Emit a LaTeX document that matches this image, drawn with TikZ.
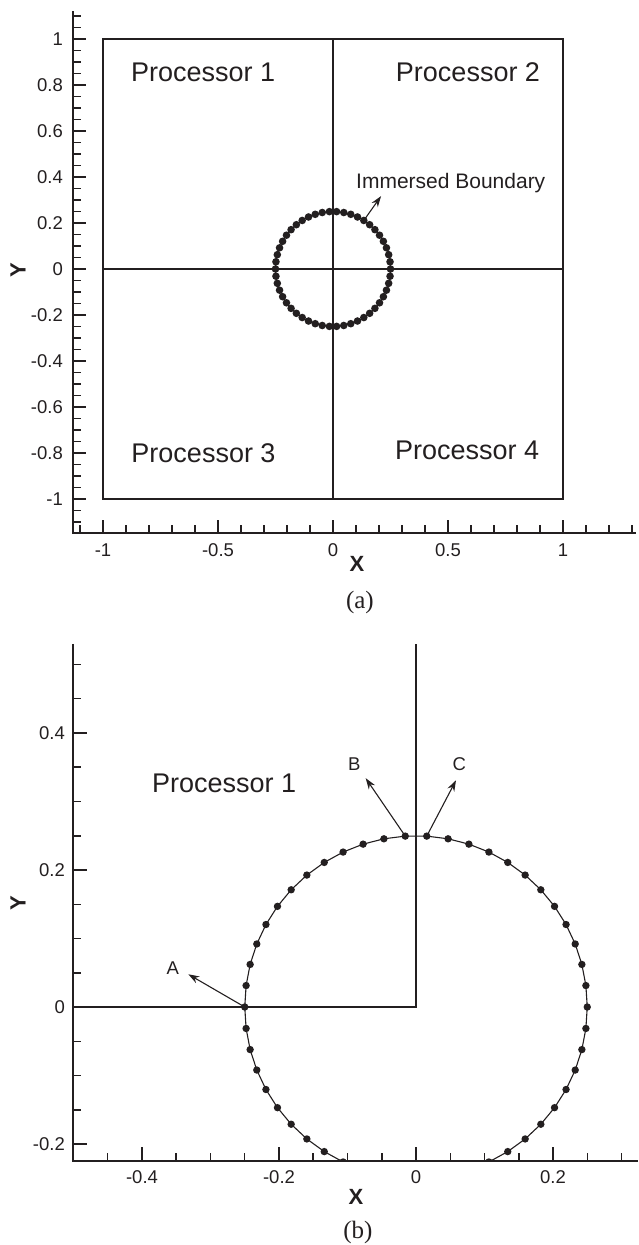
\documentclass[tikz,border=0pt]{standalone}
\usepackage{fontspec}
\setmainfont{Liberation Sans}
\newfontfamily\capfont{Liberation Serif}
\usetikzlibrary{arrows.meta}
\definecolor{ink}{HTML}{231F20}
\begin{document}
\begin{tikzpicture}[x=1pt,y=1pt, color=ink,
  proc/.style={font=\fontsize{27}{30}\selectfont, inner sep=0pt},
  ticklab/.style={font=\fontsize{18.5}{20}\selectfont, inner sep=0pt},
  axlab/.style={font=\bfseries\fontsize{22}{24}\selectfont, inner sep=0pt},
  captxt/.style={font=\capfont\fontsize{25}{28}\selectfont, inner sep=0pt},
  iblabel/.style={font=\fontsize{21}{24}\selectfont, inner sep=0pt},
  ptlab/.style={font=\fontsize{18.5}{20}\selectfont, inner sep=0pt},
  thickline/.style={line width=2.8pt},
  axisline/.style={line width=2.8pt},
  majtick/.style={line width=2.4pt},
  mintick/.style={line width=1.5pt},
  ptr/.style={line width=1.1pt, -{Stealth[length=11pt,width=7.5pt]}},
  curve/.style={line width=1.1pt},
]
\useasboundingbox (0,0) rectangle (638,-1245);

% ---------------- Panel (a) ----------------
\begin{scope}[shift={(333pt,-269pt)}, x=230pt, y=230pt]
  \draw[axisline] (-1.1304,1.1217) -- (-1.1304,-1.148) -- (1.317,-1.148);
  \foreach \i in {-22,...,22} \draw[mintick] (-1.1304,\i*0.05) -- ++(8pt,0);
  \foreach \i in {-5,...,5} \draw[majtick] (-1.1304,\i*0.2) -- ++(13pt,0);
  \foreach \i in {-11,...,13} \draw[mintick] (\i*0.1,-1.148) -- ++(0,8pt);
  \foreach \i in {-2,...,2} \draw[majtick] (\i*0.5,-1.148) -- ++(0,13pt);
  \foreach \v/\t [count=\n] in {1/1,0.8/0.8,0.6/0.6,0.4/0.4,0.2/0.2,0/0,-0.2/-0.2,-0.4/-0.4,-0.6/-0.6,-0.8/-0.8,-1/-1}
    \node[ticklab, anchor=east] (ya\n) at ([xshift=-10pt]-1.1304,\v) {\t};
  \foreach \v/\t [count=\n] in {-1/-1,-0.5/-0.5,0/0,0.5/0.5,1/1}
    \node[ticklab] (xa\n) at ([yshift=-17pt]\v,-1.148) {\t};

  \draw[thickline] (-1,-1) rectangle (1,1);
  \draw[thickline] (0,-1) -- (0,1);
  \draw[thickline] (-1,0) -- (1,0);

  \draw[curve] (0,0) circle[radius=0.25];
  \foreach \k in {0,...,49} \fill (\k*7.2:0.25) circle[radius=3.8pt];

  \coordinate (ibdot) at (57.6:0.25);
  \coordinate (ibtip) at (0.209,0.317);
  \draw[ptr] (ibdot) -- (ibtip);
  \node[iblabel, anchor=west] (iblab) at (0.1,0.374) {Immersed Boundary};

  \node[proc] (p1a) at (-0.565,0.857) {Processor 1};
  \node[proc] (p2a) at (0.587,0.857) {Processor 2};
  \node[proc] (p3a) at (-0.563,-0.8) {Processor 3};
  \node[proc] (p4a) at (0.583,-0.787) {Processor 4};

  \node[axlab] (xlaba) at (0.104,-1.283) {X};
  \node[axlab, rotate=90] (ylaba) at (-1.3696,-0.004) {Y};
  \node[captxt] (capa) at (0.117,-1.448) {(a)};
\end{scope}

% ---------------- Panel (b) ----------------
\begin{scope}[shift={(416pt,-1007pt)}, x=685pt, y=685pt]
  \draw[axisline] (-0.5007,0.53) -- (-0.5007,-0.2248) -- (0.3241,-0.2248);
  \foreach \i in {-4,...,10} \draw[mintick] (-0.5007,\i*0.05) -- ++(8pt,0);
  \foreach \i in {-1,...,2} \draw[majtick] (-0.5007,\i*0.2) -- ++(14pt,0);
  \foreach \i in {-9,...,6} \draw[mintick] (\i*0.05,-0.2248) -- ++(0,8pt);
  \foreach \i in {-2,...,1} \draw[majtick] (\i*0.2,-0.2248) -- ++(0,14pt);
  \foreach \v/\t [count=\n] in {0.4/0.4,0.2/0.2,0/0,-0.2/-0.2}
    \node[ticklab, anchor=east] (yb\n) at ([xshift=-8pt]-0.5007,\v) {\t};
  \foreach \v/\t [count=\n] in {-0.4/-0.4,-0.2/-0.2,0/0,0.2/0.2}
    \node[ticklab] (xb\n) at ([yshift=-16pt]\v,-0.2248) {\t};

  \draw[thickline] (-0.5007,0) -- (0,0) -- (0,0.53);

  \begin{scope}
    \clip (-0.5007,-0.2248) rectangle (0.3241,0.53);
    \draw[curve] (0:0.25) \foreach \k in {1,...,50} { -- (\k*7.2:0.25)};
    \foreach \k in {0,...,49} \fill (\k*7.2:0.25) circle[radius=3.7pt];
  \end{scope}

  \coordinate (dA) at (180:0.25);
  \coordinate (dB) at (93.6:0.25);
  \coordinate (dC) at (86.4:0.25);
  \coordinate (tA) at (-0.3324,0.0478);
  \coordinate (tB) at (-0.0734,0.334);
  \coordinate (tC) at (0.0584,0.331);
  \draw[ptr] (dA) -- (tA);
  \draw[ptr] (dB) -- (tB);
  \draw[ptr] (dC) -- (tC);
  \node[ptlab] (labA) at (-0.355,0.057) {A};
  \node[ptlab] (labB) at (-0.090,0.354) {B};
  \node[ptlab] (labC) at (0.0633,0.354) {C};

  \node[proc] (p1b) at (-0.280,0.327) {Processor 1};

  \node[axlab] (xlabb) at (-0.0876,-0.2774) {X};
  \node[axlab, rotate=90] (ylabb) at (-0.581,0.1518) {Y};
  \node[captxt] (capb) at (-0.0847,-0.3285) {(b)};
\end{scope}
\end{tikzpicture}
\end{document}
